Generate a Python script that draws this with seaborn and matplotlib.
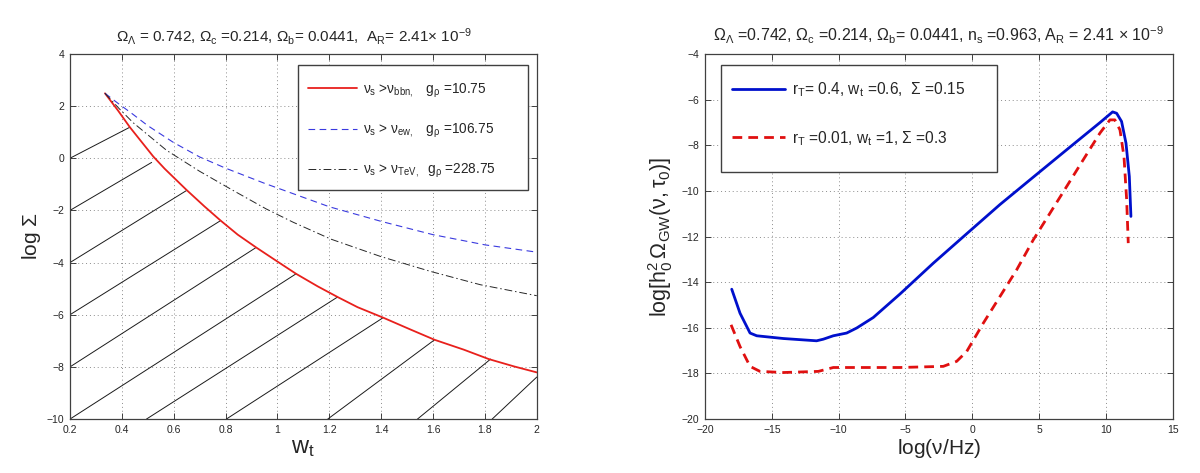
import numpy as np
import pandas as pd
import matplotlib
matplotlib.use("Agg")
import matplotlib.pyplot as plt
from matplotlib.patches import Rectangle
import seaborn as sns

# ---------------- left panel data (w_t vs log Sigma) ----------------
w_bbn = [0.335, 0.386, 0.431, 0.521, 0.565, 0.649, 0.719, 0.781, 0.847, 0.918,
         1.0, 1.072, 1.155, 1.232, 1.309, 1.405, 1.514, 1.606, 1.719, 1.815, 1.912, 2.0]
s_bbn = [2.49, 1.82, 1.19, 0.07, -0.40, -1.21, -1.85, -2.39, -2.93, -3.42,
         -3.96, -4.43, -4.91, -5.32, -5.71, -6.10, -6.57, -6.96, -7.34, -7.70, -7.98, -8.21]

w_ew = [0.335, 0.386, 0.437, 0.5, 0.6, 0.7, 0.8, 0.95, 1.1, 1.2, 1.4, 1.6, 1.8, 2.0]
s_ew = [2.49, 2.10, 1.73, 1.25, 0.60, 0.05, -0.38, -0.96, -1.50, -1.86, -2.42, -2.93, -3.32, -3.60]

w_tev = [0.335, 0.39, 0.444, 0.5, 0.573, 0.7, 0.83, 0.958, 1.06, 1.206, 1.399, 1.591, 1.783, 2.0]
s_tev = [2.49, 1.90, 1.36, 0.90, 0.30, -0.50, -1.24, -1.95, -2.45, -3.10, -3.77, -4.34, -4.85, -5.27]

hatch_x0 = [0.2, 0.2, 0.2, 0.2, 0.2, 0.2, 0.495, 0.803, 1.194, 1.54, 1.828]
hatch_y0 = [0.0, -2.0, -4.0, -6.0, -8.0, -10.0, -10.0, -10.0, -10.0, -10.0, -10.0]
hatch_x1 = [0.431, 0.515, 0.649, 0.781, 0.918, 1.072, 1.232, 1.405, 1.606, 1.822, 2.0]
hatch_y1 = [1.19, -0.16, -1.24, -2.39, -3.42, -4.43, -5.32, -6.13, -6.96, -7.70, -8.39]

left_labels = [r"$\nu_s$ >$\nu_{bbn,}$   $g_\rho$ =10.75",
               r"$\nu_s$ > $\nu_{ew,}$   $g_\rho$ =106.75",
               r"$\nu_s$ > $\nu_{TeV,}$  $g_\rho$ =228.75"]

# ---------------- right panel data (log nu vs log Omega_GW) ----------------
nu_blue = [-18.0, -17.38, -16.63, -16.13, -14.14, -11.65, -11.15, -10.40, -9.40, -8.65,
           -7.41, -5.41, -2.92, -0.42, 2.07, 4.56, 7.06, 9.55, 10.50, 10.80, 11.17,
           11.50, 11.75, 11.87]
og_blue = [-14.31, -15.36, -16.23, -16.35, -16.47, -16.57, -16.50, -16.35, -16.23, -16.01,
           -15.55, -14.52, -13.17, -11.88, -10.60, -9.40, -8.20, -7.01, -6.54, -6.60, -6.96,
           -7.91, -9.37, -11.12]

nu_red = [-18.05, -17.38, -16.63, -15.89, -14.14, -11.52, -10.40, -7.91, -5.41, -2.17,
          -1.17, -0.42, 0.82, 2.07, 3.32, 4.56, 5.81, 7.06, 8.30, 9.55, 10.30, 10.67,
          11.05, 11.35, 11.55, 11.67]
og_red = [-15.87, -16.82, -17.69, -17.91, -17.96, -17.91, -17.74, -17.74, -17.74, -17.69,
          -17.47, -17.04, -15.80, -14.63, -13.46, -12.15, -10.98, -9.81, -8.64, -7.47, -6.89,
          -6.89, -7.33, -8.50, -10.39, -12.29]

right_labels = [r"$r_T$= 0.4, $w_t$ =0.6,  $\Sigma$ =0.15",
                r"$r_T$ =0.01, $w_t$ =1, $\Sigma$ =0.3"]

# ---------------- styling ----------------
sns.set_theme(style="ticks")
plt.rcParams['font.family'] = ['Liberation Sans', 'DejaVu Sans']
plt.rcParams['mathtext.fontset'] = 'custom'
plt.rcParams['mathtext.rm'] = 'Liberation Sans'
plt.rcParams['mathtext.it'] = 'Liberation Sans:italic'
plt.rcParams['mathtext.bf'] = 'Liberation Sans:bold'
plt.rcParams['mathtext.sf'] = 'Liberation Sans'
plt.rcParams['mathtext.default'] = 'regular'

fig = plt.figure(figsize=(12, 4.73), dpi=100)
ax1 = fig.add_axes([0.0583, 0.114, 0.389, 0.772])
ax2 = fig.add_axes([0.5875, 0.114, 0.3898, 0.772])


def style_axes(ax):
    ax.grid(True, linestyle=(0, (1, 3)), color='0.55', linewidth=0.7)
    ax.tick_params(direction='in', top=True, right=True, length=4, width=0.6,
                   labelsize=7.5, pad=4, colors='0.15')
    for sp in ax.spines.values():
        sp.set_visible(True)
        sp.set_color('0.25')
        sp.set_linewidth(0.9)


def legend_box(ax, x, y, w, h):
    ax.add_patch(Rectangle((x, y), w, h, transform=ax.transAxes, facecolor='white',
                           edgecolor='0.25', linewidth=1.0, zorder=4))


# left panel
for x0, y0, x1, y1 in zip(hatch_x0, hatch_y0, hatch_x1, hatch_y1):
    sns.lineplot(x=[x0, x1], y=[y0, y1], ax=ax1, color='0.1', linewidth=0.7,
                 sort=False, estimator=None, legend=False)

sns.lineplot(x=w_bbn, y=s_bbn, ax=ax1, color='#e8201c', linewidth=1.3, sort=False,
             estimator=None, label=left_labels[0])
sns.lineplot(x=w_ew, y=s_ew, ax=ax1, color='#3a3adf', linewidth=0.8, sort=False,
             estimator=None, linestyle=(0, (6, 4)), label=left_labels[1])
sns.lineplot(x=w_tev, y=s_tev, ax=ax1, color='0.15', linewidth=0.7, sort=False,
             estimator=None, linestyle=(0, (8, 3, 1.5, 3)), label=left_labels[2])

ax1.set_xlim(0.2, 2)
ax1.set_ylim(-10, 4)
ax1.set_xticks(np.arange(0.2, 2.01, 0.2))
ax1.set_xticklabels(["0.2", "0.4", "0.6", "0.8", "1", "1.2", "1.4", "1.6", "1.8", "2"])
ax1.set_yticks(np.arange(-10, 4.1, 2))
style_axes(ax1)
ax1.set_xlabel(r"$w_t$", fontsize=17, labelpad=2)
ax1.set_ylabel(r"log $\Sigma$", fontsize=15, labelpad=3)
ax1.set_title(r"$\Omega_\Lambda$ = 0.742, $\Omega_c$ =0.214, $\Omega_b$= 0.0441,  $A_R$= 2.41$\times$ 10$^{-9}$",
              fontsize=11, pad=9, x=0.48)
legend_box(ax1, 0.488, 0.627, 0.493, 0.343)
leg1 = ax1.legend(loc='upper left', bbox_to_anchor=(0.509, 0.925),
                  borderaxespad=0, borderpad=0, fontsize=9.8, handlelength=3.6,
                  handletextpad=0.45, labelspacing=1.6, frameon=False)
leg1.set_zorder(5)

# right panel
sns.lineplot(x=nu_blue, y=og_blue, ax=ax2, color='#0010cc', linewidth=2.0, sort=False,
             estimator=None, label=right_labels[0])
sns.lineplot(x=nu_red, y=og_red, ax=ax2, color='#e01010', linewidth=2.0, sort=False,
             estimator=None, linestyle=(0, (3.5, 2.2)), label=right_labels[1])
ax2.set_xlim(-20, 15)
ax2.set_ylim(-20, -4)
ax2.set_xticks(np.arange(-20, 15.1, 5))
ax2.set_yticks(np.arange(-20, -3.9, 2))
style_axes(ax2)
ax2.set_xlabel(r"log($\nu$/Hz)", fontsize=15, labelpad=2)
ax2.set_ylabel(r"log[$h_0^2\,\Omega_{GW}(\nu,\tau_0)$]", fontsize=15.5, labelpad=5)
ax2.set_title(r"$\Omega_\Lambda$ =0.742, $\Omega_c$ =0.214, $\Omega_b$= 0.0441, $n_s$ =0.963, $A_R$ = 2.41 $\times$ 10$^{-9}$",
              fontsize=11.5, pad=9)
legend_box(ax2, 0.034, 0.678, 0.59, 0.292)
leg2 = ax2.legend(loc='upper left', bbox_to_anchor=(0.058, 0.927),
                  borderaxespad=0, borderpad=0, fontsize=11.2, handlelength=3.4,
                  handletextpad=0.45, labelspacing=1.9, frameon=False)
leg2.set_zorder(5)

fig.savefig("out.png", dpi=100)
